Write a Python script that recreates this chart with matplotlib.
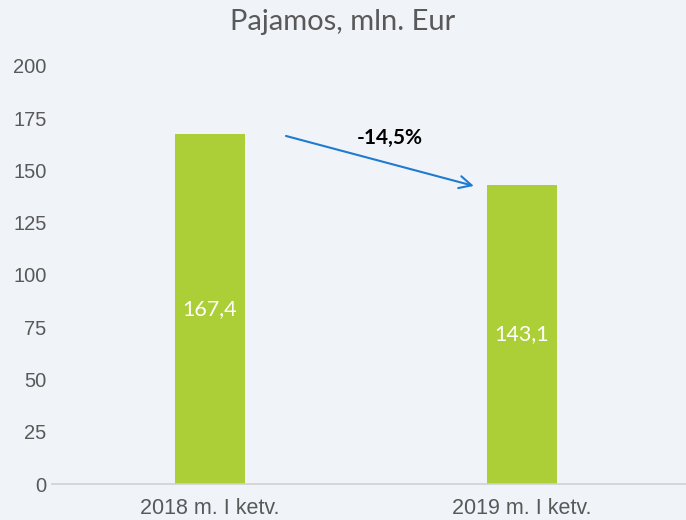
import matplotlib
matplotlib.use("Agg")
from matplotlib import pyplot as plt

# data
categories = ["2018 m. I ketv.", "2019 m. I ketv."]
values = [167.4, 143.1]
value_labels = ["167,4", "143,1"]
change_label = "-14,5%"

bg = "#F0F4F8"
bar_color = "#ACCF37"
gray = "#595959"

fig = plt.figure(figsize=(6.86, 5.2), dpi=100, facecolor=bg)
ax = fig.add_axes([0.0758, 0.0692, 0.9242, 0.804])
ax.set_facecolor(bg)

x = list(range(len(categories)))
ax.bar(x, values, width=0.224, color=bar_color, zorder=2)

for xi, v, lab in zip(x, values, value_labels):
    ax.text(xi, v / 2, lab, ha="center", va="center", color="white",
            fontsize=15.5, family=["Lato", "DejaVu Sans"])

ax.set_xlim(-0.506, 1.526)
ax.set_ylim(0, 200)
ax.set_yticks(range(0, 201, 25))
ax.set_xticks(x)
ax.set_xticklabels(categories)

for s in ["top", "right", "left"]:
    ax.spines[s].set_visible(False)
ax.spines["bottom"].set_color("#D0D0D0")
ax.spines["bottom"].set_linewidth(1.2)
ax.tick_params(axis="both", length=0, colors=gray)
ax.tick_params(axis="y", pad=4, labelsize=14.5)
ax.tick_params(axis="x", pad=10, labelsize=15.5)
for t in ax.get_xticklabels() + ax.get_yticklabels():
    t.set_family(["Liberation Sans Narrow", "Liberation Sans", "DejaVu Sans"])

# change arrow between bars
ax.annotate("", xy=(0.846, 142.6), xytext=(0.244, 166.5),
            arrowprops=dict(arrowstyle="->", color="#1F7BD0", lw=1.5,
                            mutation_scale=22, shrinkA=0, shrinkB=0))
ax.text(0.577, 165.5, change_label, ha="center", va="center", fontsize=15,
        fontweight="bold", color="black", family=["Lato", "DejaVu Sans"])

fig.text(0.5, 0.958, "Pajamos, mln. Eur", ha="center", va="center",
         fontsize=21, color=gray, family=["Lato", "DejaVu Sans"])

fig.savefig("out.png", dpi=100, facecolor=bg)
